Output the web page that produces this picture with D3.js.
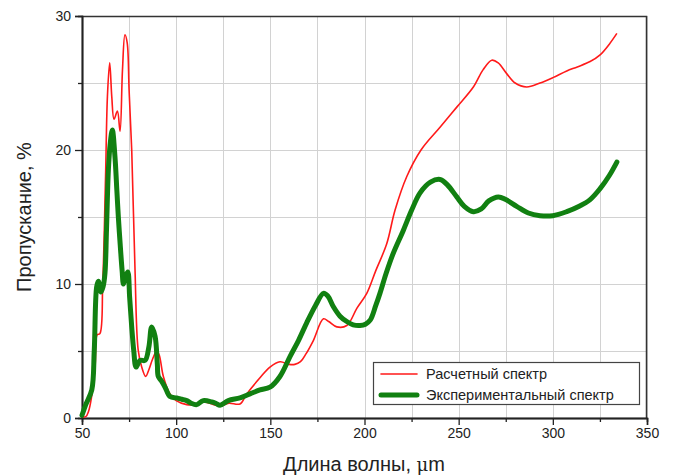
<!DOCTYPE html>
<html><head><meta charset="utf-8">
<script src="https://cdn.jsdelivr.net/npm/d3@7"></script>
<style>body{margin:0;background:#fff}svg{display:block}text{font-family:"Liberation Sans",Arial,sans-serif}</style>
</head><body><svg id="c" width="673" height="476"></svg>
<script>
const calcX = [50,52,53.5,55,57,58,59.5,61,62.5,63.5,64.7,65.8,67,68.8,70.2,71.5,72.8,74,75,76.4,78.1,79.8,81.7,83.8,85.5,87.5,89.7,91,93.2,96.7,100,105.6,110,115,120,123.3,128,133.9,137.5,144.5,149.8,155.1,160,163,166,169,172.9,178.2,181,185.3,190.6,196,201.2,206,211.8,216.2,222.4,230,240.1,249,257.8,263,267.6,271,275.5,280,286.1,293.2,300,307.4,313,319.8,325.1,330,334];
const calcY = [0.1,0.1,0.5,1.5,4,6.2,6.3,10,18,24,26.5,24,22.3,22.9,21.4,26,28.6,28,24.5,20,11.3,5.1,3.8,3.1,3.6,4.4,5.0,4.7,3.1,1.8,1.3,1.0,1.0,1.2,1.0,0.9,1.1,1.05,1.8,3.0,3.8,4.2,4.0,4.0,4.2,4.8,5.8,7.4,7.2,6.8,6.9,8.2,9.3,11,13.0,15.5,18.0,20,21.7,23.2,24.7,26,26.7,26.5,25.7,25,24.7,25.0,25.4,25.9,26.2,26.6,27.1,27.9,28.7];
const expX = [50,52,55.2,56.5,57.8,58.7,60.1,61.2,62.2,63,64,65,66.1,67.5,68.5,69.3,70.5,71.3,72,73,74.3,75.3,76.4,77.5,78.7,80.8,83.5,85.5,87,88.8,90,90.5,92,94.1,96.7,100.3,103,105.6,108,110.9,114.4,118.9,121,123.3,127.7,133.9,139.2,144.5,149.8,155.1,160.5,165,169.3,174,178.2,180.5,183.5,187,190.6,194,197.6,200.5,203,206,208.2,211.5,215.3,220.6,225,229.5,235,240.1,244,249,253,257.8,262,266,271.1,275,280.8,287,293.2,300,307.4,314,319.8,325,330,334];
const expY = [0.2,1,2.1,5,9.8,10.2,9.4,9.8,10.8,14,18.5,20.5,21.5,19.5,17,15.0,12.5,11,10.0,10.5,10.9,9,6.8,5,3.8,4.3,4.3,5.3,6.8,6.1,4,3.1,2.8,2.3,1.6,1.5,1.4,1.3,1.1,1.0,1.3,1.2,1.1,0.95,1.3,1.5,1.8,2.1,2.3,3.1,4.6,5.8,7.1,8.4,9.3,9.1,8.3,7.6,7.2,6.95,6.9,7.0,7.3,8.4,9.3,10.8,12.3,14.0,15.5,16.8,17.6,17.8,17.4,16.5,15.8,15.4,15.6,16.2,16.5,16.3,15.8,15.3,15.1,15.1,15.4,15.8,16.3,17.1,18.1,19.1];
const xMajor = [50,100,150,200,250,300,350];
const xMinor = [75,125,175,225,275,325];
const yMajor = [0,10,20,30];
const yMinor = [5,15,25];
const seriesNames = ["Расчетный спектр","Экспериментальный спектр"];
const xTitle = "Длина волны, ";
const yTitle = "Пропускание, %";

const svg = d3.select("#c");
const L=82,R=647,T=16,B=418;
const x = d3.scaleLinear().domain([50,350]).range([L,R]);
const y = d3.scaleLinear().domain([0,30]).range([B,T]);

// grid
const grid = svg.append("g").attr("stroke","#d2d2d2").attr("stroke-width",1);
xMajor.concat(xMinor).forEach(v=>grid.append("line").attr("x1",Math.round(x(v))+0.5).attr("x2",Math.round(x(v))+0.5).attr("y1",T).attr("y2",B));
yMajor.concat(yMinor).forEach(v=>grid.append("line").attr("y1",Math.round(y(v))+0.5).attr("y2",Math.round(y(v))+0.5).attr("x1",L).attr("x2",R));

// frame
svg.append("rect").attr("x",L+0.5).attr("y",T+0.5).attr("width",R-L-1).attr("height",B-T).attr("fill","none").attr("stroke","#333").attr("stroke-width",1.5);

// axes
const xa = svg.append("g").attr("transform",`translate(0,${B})`)
  .call(d3.axisBottom(x).tickValues(xMajor).tickSize(7).tickFormat(d3.format("d")));
const xam = svg.append("g").attr("transform",`translate(0,${B})`)
  .call(d3.axisBottom(x).tickValues(xMinor).tickSize(4).tickFormat(""));
const ya = svg.append("g").attr("transform",`translate(${L},0)`)
  .call(d3.axisLeft(y).tickValues(yMajor).tickSize(7).tickFormat(d3.format("d")));
const yam = svg.append("g").attr("transform",`translate(${L},0)`)
  .call(d3.axisLeft(y).tickValues(yMinor).tickSize(4).tickFormat(""));
[xa,xam,ya,yam].forEach(g=>{g.select(".domain").attr("stroke","#222").attr("stroke-width",1.5);g.selectAll(".tick line").attr("stroke","#222").attr("stroke-width",1.3);});
xa.selectAll("text").attr("font-size",14).attr("fill","#222").attr("dy","0.9em").attr("y",7);
ya.selectAll("text").attr("font-size",14).attr("fill","#222").attr("x",-11);

// lines
const line = d3.line().x(d=>x(d[0])).y(d=>y(d[1])).curve(d3.curveCatmullRom.alpha(0.5));
const calc = calcX.map((v,i)=>[v,calcY[i]]);
const exp = expX.map((v,i)=>[v,expY[i]]);
svg.append("path").datum(calc).attr("d",line).attr("fill","none").attr("stroke","#ff1a1a").attr("stroke-width",1.6).attr("stroke-linejoin","round");
svg.append("path").datum(exp).attr("d",line).attr("fill","none").attr("stroke","#118011").attr("stroke-width",5).attr("stroke-linejoin","round").attr("stroke-linecap","round");

// titles
const xt = svg.append("text").attr("x",364).attr("y",471).attr("text-anchor","middle").attr("font-size",20).attr("fill","#222");
xt.append("tspan").text(xTitle);
xt.append("tspan").attr("font-family","'DejaVu Serif',serif").attr("font-size",18).text("μ");
xt.append("tspan").text("m");
svg.append("text").attr("transform","translate(31,217) rotate(-90)").attr("text-anchor","middle").attr("font-size",20).attr("fill","#222").text(yTitle);

// legend
const lg = svg.append("g");
lg.append("rect").attr("x",373.5).attr("y",362.5).attr("width",266).attr("height",42).attr("fill","#fff").attr("stroke","#444").attr("stroke-width",1.2);
const colors=["#ff1a1a","#118011"], widths=[1.6,5];
seriesNames.forEach((n,i)=>{
  const cy = 374+i*21;
  lg.append("line").attr("x1",381).attr("x2",417).attr("y1",cy).attr("y2",cy).attr("stroke",colors[i]).attr("stroke-width",widths[i]).attr("stroke-linecap","round");
  lg.append("text").attr("x",426).attr("y",cy).attr("dy","0.35em").attr("font-size",14.5).attr("fill","#222").text(n);
});
</script></body></html>
